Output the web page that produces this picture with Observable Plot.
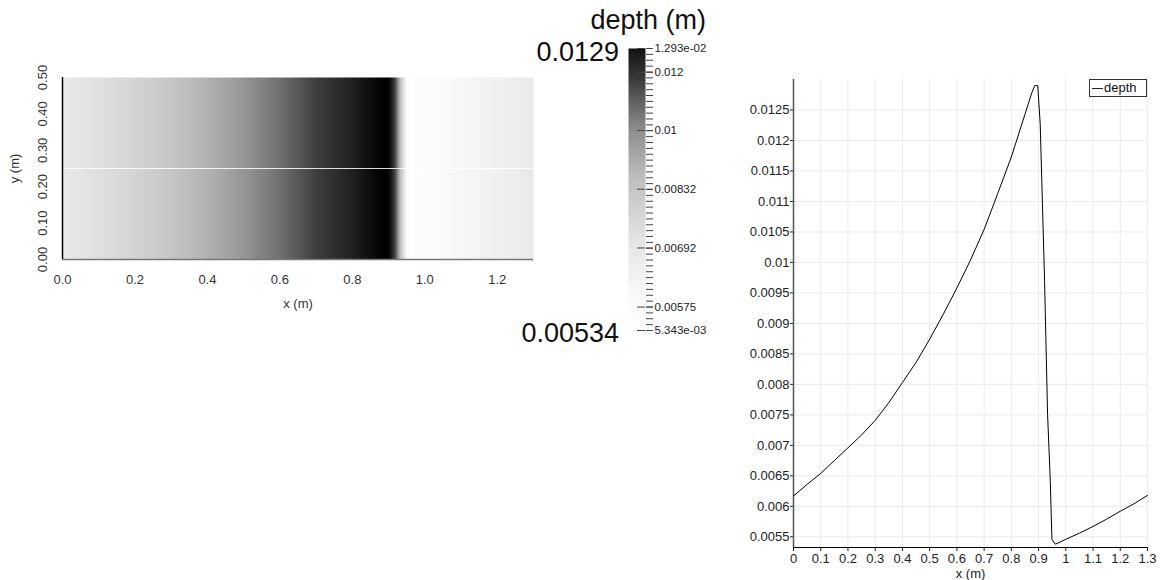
<!DOCTYPE html>
<html><head><meta charset="utf-8">
<script src="https://cdn.jsdelivr.net/npm/d3@7"></script>
<script src="https://cdn.jsdelivr.net/npm/@observablehq/plot@0.6"></script>
<style>
html,body{margin:0;padding:0;background:#fff;}
#root{position:relative;width:1168px;height:580px;font-family:"Liberation Sans",Arial,sans-serif;overflow:hidden;}
#root > *{position:absolute;}
.big{font-size:27px;line-height:28px;color:#111;white-space:nowrap;}
</style></head><body><div id="root"></div>
<script>
// ---- data ----
const sampleX = [0, 0.05, 0.1, 0.15, 0.2, 0.25, 0.3, 0.35, 0.4, 0.45, 0.5, 0.55, 0.6, 0.65, 0.7, 0.75, 0.8, 0.85, 0.875, 0.886, 0.897, 0.906, 0.922, 0.933, 0.943, 0.949, 0.961, 0.968, 1.0, 1.05, 1.1, 1.15, 1.2, 1.25, 1.3];
const sampleDepth = [0.00617, 0.00636, 0.00654, 0.00675, 0.00696, 0.00717, 0.00741, 0.0077, 0.00803, 0.00836, 0.00874, 0.00915, 0.00958, 0.01004, 0.01054, 0.01113, 0.01173, 0.01243, 0.01278, 0.0129, 0.0129, 0.01227, 0.0097, 0.00751, 0.00642, 0.00546, 0.00538, 0.00539, 0.00546, 0.00556, 0.00567, 0.00579, 0.00592, 0.00604, 0.00618];
const yEdges = [0, 0.5];
const sliceY = [0.25];
const depthMin = 0.005343, depthMax = 0.01293;

const mapXTicks = [0, 0.2, 0.4, 0.6, 0.8, 1.0, 1.2];
const mapYTicks = [0, 0.1, 0.2, 0.3, 0.4, 0.5];
const lineXTicks = [0, 0.1, 0.2, 0.3, 0.4, 0.5, 0.6, 0.7, 0.8, 0.9, 1, 1.1, 1.2, 1.3];
const lineYTicks = [0.0055, 0.006, 0.0065, 0.007, 0.0075, 0.008, 0.0085, 0.009, 0.0095, 0.01, 0.0105, 0.011, 0.0115, 0.012, 0.0125];
const lineYDomain = [0.005325, 0.013];
const cbMajorTicks = [0.01293, 0.012, 0.01, 0.00832, 0.00692, 0.00575, 0.005343];
const cbMajorLabels = ["1.293e-02", "0.012", "0.01", "0.00832", "0.00692", "0.00575", "5.343e-03"];
const cbTitle = "depth (m)", cbTopLabel = "0.0129", cbBottomLabel = "0.00534";
const legendLabel = "depth";

// ---- styles ----
const gray = v => `rgb(${v},${v},${v})`;
const FONT = '"Liberation Sans", Arial, sans-serif';
const fmtG = d3.format("~g");
const root = document.getElementById("root");

const rows = sampleX.map((x, i) => ({x, depth: sampleDepth[i]}));
const mapTable = rows.flatMap(r => yEdges.map(y => ({x: r.x, y, depth: r.depth})));

// ---- heatmap ----
const heat = Plot.plot({
  width: 560, height: 320,
  marginLeft: 62, marginRight: 27, marginTop: 77, marginBottom: 61,
  style: {fontFamily: FONT, fontSize: "13px", color: "#333", background: "transparent"},
  x: {domain: [0, 1.3]},
  y: {domain: yEdges},
  color: {type: "linear", clamp: true,
    domain: [depthMin, 0.00617, 0.00696, 0.00803, 0.00874, 0.00962, 0.01054, 0.01173, depthMax],
    range: [255, 234, 212, 178, 150, 110, 62, 32, 0].map(gray)},
  marks: [
    Plot.raster(mapTable, {x: "x", y: "y", fill: "depth", interpolate: "barycentric"}),
    Plot.ruleY(sliceY, {stroke: "white", strokeOpacity: 0.85}),
    Plot.ruleY([yEdges[0]], {stroke: "#777", strokeWidth: 1.5}),
    Plot.ruleX([0], {stroke: "black", strokeWidth: 1.5}),
    Plot.axisX({ticks: mapXTicks, tickFormat: d3.format(".1f"), tickSize: 0, tickPadding: 15,
      label: "x (m)", labelAnchor: "center", labelOffset: 48, labelArrow: "none"}),
    Plot.axisY({ticks: mapYTicks, tickFormat: d3.format(".2f"), tickSize: 0, tickPadding: 16, tickRotate: -90,
      label: "y (m)", labelAnchor: "center", labelOffset: 53, labelArrow: "none"})
  ]
});
heat.style.left = "0px"; heat.style.top = "0px";
root.appendChild(heat);

// ---- colorbar (log-spaced axis) ----
const lmin = Math.log10(depthMin), lmax = Math.log10(depthMax);
const cbMinor = d3.range(lmin, lmax + 1e-9, (lmax - lmin) / 48);
const cbMajorLog = cbMajorTicks.map(v => Math.log10(v));
const cbLabelOf = new Map(cbMajorLog.map((l, i) => [l, cbMajorLabels[i]]));
const cbar = Plot.plot({
  width: 120, height: 320,
  marginLeft: 28, marginRight: 75, marginTop: 18, marginBottom: 20,
  style: {fontFamily: FONT, fontSize: "11.5px", color: "#222", background: "transparent"},
  x: {domain: [0, 1], axis: null},
  y: {domain: [lmin, lmax], axis: null},
  color: {type: "linear", clamp: true,
    domain: [depthMin, 0.0059, 0.0069, 0.00832, 0.0087, 0.01, 0.01076, 0.0117, depthMax],
    range: [255, 250, 232, 198, 188, 142, 106, 60, 17].map(gray)},
  marks: [
    Plot.raster({fill: (x, y) => Math.pow(10, y), x1: 0, x2: 1, y1: lmin, y2: lmax}),
    Plot.axisY({anchor: "right", ticks: cbMinor, tickSize: 7, tickFormat: () => "", stroke: "#444", label: null}),
    Plot.axisY({anchor: "right", ticks: cbMajorLog, tickSize: 7, tickPadding: 2, stroke: "#444",
      tickFormat: d => cbLabelOf.get(d), label: null}),
    Plot.tickY(cbMajorLog, {y: d => d, insetLeft: 9, stroke: "#444"})
  ]
});
cbar.style.left = "600px"; cbar.style.top = "30px";
root.appendChild(cbar);

function addText(txt, css) {
  const d = document.createElement("div");
  d.className = "big"; d.textContent = txt;
  Object.assign(d.style, css);
  root.appendChild(d);
}
addText(cbTitle, {right: (1168 - 706) + "px", top: "6px"});
addText(cbTopLabel, {right: (1168 - 619) + "px", top: "38px"});
addText(cbBottomLabel, {right: (1168 - 619) + "px", top: "319px"});

// ---- line chart ----
const line = Plot.plot({
  width: 448, height: 520,
  marginLeft: 73, marginRight: 21, marginTop: 19, marginBottom: 33,
  style: {fontFamily: FONT, fontSize: "13px", color: "#222", background: "transparent"},
  x: {domain: [0, 1.3]},
  y: {domain: lineYDomain},
  marks: [
    Plot.gridX(lineXTicks, {stroke: "#ebebeb", strokeOpacity: 1}),
    Plot.gridY(lineYTicks, {stroke: "#ebebeb", strokeOpacity: 1}),
    Plot.axisX({ticks: lineXTicks, tickFormat: fmtG, tickSize: 4, tickPadding: 2,
      label: "x (m)", labelAnchor: "center", labelOffset: 30, labelArrow: "none"}),
    Plot.axisY({ticks: lineYTicks, tickFormat: fmtG, tickSize: 3, tickPadding: 1, label: null}),
    Plot.ruleX([0], {stroke: "#555", strokeWidth: 1.5}),
    Plot.ruleY([lineYDomain[0]], {stroke: "black", strokeWidth: 1}),
    Plot.line(rows, {x: "x", y: "depth", stroke: "black", strokeWidth: 1})
  ]
});
line.style.left = "720px"; line.style.top = "60px";
root.appendChild(line);

// ---- legend ----
const lg = document.createElement("div");
Object.assign(lg.style, {left: "1089px", top: "79px", width: "56px", height: "16px",
  border: "1px solid #333", background: "#fff", fontSize: "13px", lineHeight: "16px",
  color: "#111", whiteSpace: "nowrap"});
lg.innerHTML = '<span style="display:inline-block;width:11px;height:0;border-top:1.2px solid #222;vertical-align:middle;margin:0 1px 0 2px"></span>';
lg.appendChild(document.createTextNode(legendLabel));
root.appendChild(lg);
</script>
</body></html>
